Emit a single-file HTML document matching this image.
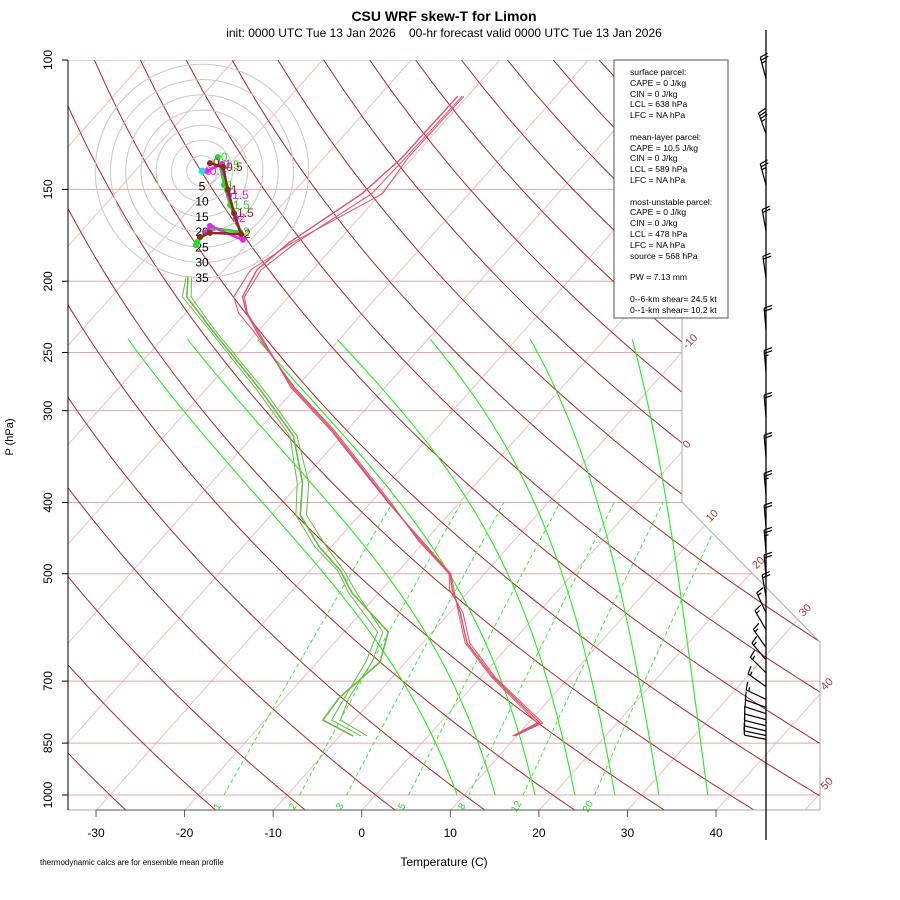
<!DOCTYPE html>
<html><head><meta charset="utf-8">
<style>
html,body{margin:0;padding:0;background:#fff;}
svg{display:block;font-family:"Liberation Sans",sans-serif;}
</style></head>
<body>
<svg id="chart" width="900" height="900" viewBox="0 0 900 900">
  <defs>
    <clipPath id="plotclip"><polygon points="68,60 682,60 682,502 820,642 820,810 68,810"/></clipPath>
  </defs>
  <text x="444" y="21" text-anchor="middle" font-size="14" font-weight="bold">CSU WRF skew-T for Limon</text>
  <text x="444" y="37" text-anchor="middle" font-size="12" xml:space="preserve">init: 0000 UTC Tue 13 Jan 2026&#160;&#160;&#160;&#160;00-hr forecast valid 0000 UTC Tue 13 Jan 2026</text>
  <g id="bg" clip-path="url(#plotclip)"></g>
  <g id="frame"></g>
  <g id="profiles"></g>
  <g id="hodo"></g>
  <g id="barbs"></g>
  <g id="axes"></g>
  <g>
    <rect x="614" y="60" width="114" height="258" fill="#fff" stroke="#555" stroke-width="1"/>
    <text font-size="8.6" fill="#000">
      <tspan x="630" y="75">surface parcel:</tspan>
      <tspan x="630" y="86">CAPE = 0 J/kg</tspan>
      <tspan x="630" y="97">CIN = 0 J/kg</tspan>
      <tspan x="630" y="107">LCL = 638 hPa</tspan>
      <tspan x="630" y="118">LFC = NA hPa</tspan>
      <tspan x="630" y="140">mean-layer parcel:</tspan>
      <tspan x="630" y="151">CAPE = 10.5 J/kg</tspan>
      <tspan x="630" y="161">CIN = 0 J/kg</tspan>
      <tspan x="630" y="172">LCL = 589 hPa</tspan>
      <tspan x="630" y="183">LFC = NA hPa</tspan>
      <tspan x="630" y="205">most-unstable parcel:</tspan>
      <tspan x="630" y="215">CAPE = 0 J/kg</tspan>
      <tspan x="630" y="226">CIN = 0 J/kg</tspan>
      <tspan x="630" y="237">LCL = 478 hPa</tspan>
      <tspan x="630" y="248">LFC = NA hPa</tspan>
      <tspan x="630" y="259">source = 568 hPa</tspan>
      <tspan x="630" y="280">PW =  7.13 mm</tspan>
      <tspan x="630" y="302">0--6-km shear= 24.5 kt</tspan>
      <tspan x="630" y="313">0--1-km shear= 10.2 kt</tspan>
    </text>
  </g>
  <text x="40" y="865" font-size="8">thermodynamic calcs are for ensemble mean profile</text>
  <text x="444" y="866" text-anchor="middle" font-size="12">Temperature (C)</text>
  <text x="0" y="0" transform="translate(13,437) rotate(-90)" text-anchor="middle" font-size="11">P (hPa)</text>
</svg>
<script>
// ---- data ----
const tempTicks = [-30,-20,-10,0,10,20,30,40];
const presTicks = [100,150,200,250,300,400,500,700,850,1000];
const isothermLabels = [-10,0,10,20,30,40,50];
const mixRatios = [1,2,3,5,8,12,20];
const moistStartT = [9.2,13.5,18,22.5,27,32,37.5];
const moistTopT = [-73.8,-67.1,-59.2,-50.2,-39.7,-28.4,-16.9];
const profP = [831,798,691,621,565,526,500,450,401,319,279,235,221,210,193,177,152,136,112];
const tempM1 = [9.6,11.3,1.4,-5.0,-8.8,-12.0,-13.9,-20.7,-27.8,-41.6,-50.4,-59.9,-63.1,-65.2,-66.3,-65.4,-62.1,-61.2,-61.1];
const tempM2 = [9.8,11.6,1.6,-4.7,-8.5,-12.3,-14.0,-20.9,-27.6,-41.4,-50.2,-60.2,-64.0,-66.2,-67.0,-65.0,-59.8,-60.5,-60.4];
const tempM3 = [9.5,11.0,1.2,-5.2,-9.0,-11.8,-13.8,-20.5,-27.9,-41.8,-50.6,-59.7,-63.0,-65.0,-65.8,-64.6,-61.0,-60.8,-60.6];
const dewP = [831,791,738,659,600,531,495,460,416,376,325,283,233,210,197];
const dewM1 = [-8.5,-13.5,-13.9,-12.9,-15.0,-23.0,-26.6,-31.3,-36.7,-39.7,-45.4,-53.4,-65.3,-71.5,-73.4];
const dewM2 = [-6.9,-11.5,-12.8,-13.8,-15.6,-22.5,-26.2,-30.5,-36.0,-39.0,-45.0,-53.0,-65.0,-71.0,-73.0];
const dewM3 = [-7.6,-12.5,-13.3,-14.5,-16.2,-23.4,-26.9,-31.8,-37.2,-40.3,-45.8,-53.8,-65.6,-72.0,-73.6];
const hodoRings = [5,10,15,20,25,30,35];
const hodoBrownU = [2.6,6.9,8.5,10.5,12.8,2.6,-0.7];
const hodoBrownV = [2.6,1.3,-6.2,-13.8,-20.7,-20.3,-21.6];
const hodoGreenU = [5.2,5.9,7.2,9.2,12.5,3.6,-1.6,-2.0];
const hodoGreenV = [4.6,2.0,-4.6,-11.1,-20.0,-18.7,-23.3,-24.3];
const hodoMagU = [0,1.6,6.6,8.9,11.1,13.4,2.6,1.6];
const hodoMagV = [0,0,2.3,-7.9,-15.4,-22.6,-18.0,-20.0];
const barbP = [106,126,148,171,198,233,266,306,347,391,432,467,505,537,565,596,630,655,682,712,741,760,775,790,805,818,830,840];
const barbDir = [345,340,345,350,352,355,355,355,355,355,355,355,355,350,335,330,325,320,315,305,295,290,288,285,284,283,282,281];
const barbSpd = [25,35,25,20,20,20,25,20,20,25,20,25,20,20,15,15,15,15,15,15,15,12,10,10,10,10,10,10];

// ---- axis functions ----
const NS='http://www.w3.org/2000/svg';
const Y0=60, YS=319.2, XB=810.6, X0=361.7, XT=8.857, SK=0.892;
function yP(p){return Y0+YS*Math.log(p/100);}
function xT(t,p){return X0+XT*t+SK*(XB-yP(p));}
function mk(tag,attrs,parent){const e=document.createElementNS(NS,tag);for(const k in attrs)e.setAttribute(k,attrs[k]);parent.appendChild(e);return e;}
function pathFrom(pts){return pts.map((q,i)=>(i?'L':'M')+q[0].toFixed(1)+','+q[1].toFixed(1)).join('');}
const bg=document.getElementById('bg'), frame=document.getElementById('frame'), axes=document.getElementById('axes');

// isotherms
for(let t=-110;t<=50;t+=10){
  const e=mk('path',{d:pathFrom([[xT(t,1050),yP(1050)],[xT(t,100),yP(100)]]),stroke:'#ebc0c0','stroke-width':1,fill:'none'},bg);
  
  
}
// pressure lines
presTicks.forEach(p=>{
  const e=mk('line',{x1:68,x2:830,y1:yP(p),y2:yP(p),stroke:'#e0a8a8','stroke-width':1},bg);
  
  
});
// dry adiabats
for(let th=-40;th<=190;th+=10){
  const pts=[];
  for(let p=1050;p>=100;p-=10){pts.push([xT((th+273.15)*Math.pow(p/1000,0.2857)-273.15,p),yP(p)]);}
  const e=mk('path',{d:pathFrom(pts),stroke:'#a52a2a','stroke-width':1,fill:'none'},bg);
  
  
}
// moist adiabats (integrated, then adjusted to match observed top temperature)
function es(t){return 6.112*Math.exp(17.67*t/(t+243.5));}
moistStartT.forEach((t0,i)=>{
  let T=t0+273.15; const raw=[[t0,1000]];
  for(let p=1000;p>240;p-=2){
    const rs=0.622*es(T-273.15)/(p-es(T-273.15));
    const num=287*T+2.5e6*rs, den=1004+2.5e6*2.5e6*rs*0.622/(287*T*T);
    T-= (num/(p*den))*2;
    raw.push([T-273.15,p-2]);
  }
  const err=moistTopT[i]-raw[raw.length-1][0];
  const L=Math.log(1000/240);
  const pts=raw.map(q=>{const f=Math.log(1000/q[1])/L;const t=q[0]+err*f;return [xT(t,q[1]),yP(q[1])];});
  const e=mk('path',{d:pathFrom(pts),stroke:'#22ee22','stroke-width':1.1,fill:'none'},bg);
  
  
});
// mixing ratio lines
function tdW(w,p){const e=w*p/(622+w);const l=Math.log(e/6.112);return 243.5*l/(17.67-l);}
mixRatios.forEach(w=>{
  const pts=[[xT(tdW(w,1000),1000),yP(1000)],[xT(tdW(w,700),700),yP(700)],[xT(tdW(w,550),550),yP(550)],[xT(tdW(w,400),400),yP(400)]];
  const e=mk('path',{d:pathFrom(pts),stroke:'#33ee33','stroke-width':1,'stroke-dasharray':'4,3',fill:'none'},bg);
  
  
  const x=xT(tdW(w,1000),1000)-4;
  const tx=mk('text',{x:0,y:0,transform:`translate(${x.toFixed(1)},808) rotate(-60)`,'font-size':10,fill:'#22dd22','text-anchor':'middle'},axes);
  tx.textContent=w;
  
  
});
// frame
const fr=mk('polyline',{points:'682,60 682,502 820,642 820,810',fill:'none',stroke:'#aaa','stroke-width':1},frame);


const bl=mk('line',{x1:68,x2:820,y1:810,y2:810,stroke:'#aaa','stroke-width':1},frame);


// isotherm labels
function xb(y){return y<=502?682:(y<=642?682+(y-502)*138/140:820);}
isothermLabels.forEach(t=>{
  let yy=60;
  for(let y=60;y<=810;y+=0.5){const x=X0+XT*t+SK*(XB-y);if(x<=xb(y)){yy=y;break;}}
  const x=xb(yy);
  const tx=mk('text',{x:0,y:0,transform:`translate(${(x+5).toFixed(1)},${(yy-3).toFixed(1)}) rotate(-45)`,'font-size':11,fill:'#b03838'},axes);
  tx.textContent=t;
  
  
});
// axes
mk('line',{x1:68,x2:68,y1:60,y2:810,stroke:'#000','stroke-width':1},axes);
presTicks.forEach(p=>{
  mk('line',{x1:62,x2:68,y1:yP(p),y2:yP(p),stroke:'#000'},axes);
  const tx=mk('text',{x:0,y:0,transform:`translate(52,${yP(p).toFixed(1)}) rotate(-90)`,'font-size':12,'text-anchor':'middle'},axes);
  tx.textContent=p;
  
  
});
mk('line',{x1:xT(-30,1050),x2:xT(40,1050),y1:810,y2:810,stroke:'#555'},axes);
tempTicks.forEach(t=>{
  const x=xT(t,1050);
  mk('line',{x1:x,x2:x,y1:810,y2:817,stroke:'#555'},axes);
  const tx=mk('text',{x:x,y:837,'font-size':12,'text-anchor':'middle'},axes);
  tx.textContent=t;
  
  
});
// profiles
const prof=document.getElementById('profiles');
[tempM1,tempM2,tempM3].forEach((arr,i)=>{
  const e=mk('path',{d:pathFrom(arr.map((t,k)=>[xT(t,profP[k]),yP(profP[k])])),stroke:'#e0506a','stroke-width':i?1:1.4,fill:'none'},prof);
  
  
});
[dewM1,dewM2,dewM3].forEach((arr,i)=>{
  const e=mk('path',{d:pathFrom(arr.map((t,k)=>[xT(t,dewP[k]),yP(dewP[k])])),stroke:'#66bb44','stroke-width':i?1:1.6,fill:'none'},prof);
  
  
});
// hodograph
const hodo=document.getElementById('hodo');
const HX=202, HY=171, HK=3.05;
function hx(u){return HX+u*HK;} function hy(v){return HY-v*HK;}
hodoRings.forEach(r=>{
  const c=mk('circle',{cx:HX,cy:HY,r:r*HK,fill:'none',stroke:'#c8c8c8','stroke-width':1},hodo);
  
  
  const tx=mk('text',{x:HX,y:HY+r*HK+4,'font-size':12,'text-anchor':'middle'},hodo);
  tx.textContent=r;
  
  
});
const hlabels=['0','0.5','1','1.5','2','3','4','5'];
[[hodoGreenU,hodoGreenV,'#22dd22'],[hodoMagU,hodoMagV,'#ee22ee'],[hodoBrownU,hodoBrownV,'#8b2a22']].forEach(s=>{
  const [U,V,col]=s;
  const e=mk('path',{d:pathFrom(U.map((u,k)=>[hx(u),hy(V[k])])),stroke:col,'stroke-width':2.5,fill:'none'},hodo);
  
  
  U.forEach((u,k)=>{
    const d=mk('circle',{cx:hx(u),cy:hy(V[k]),r:3,fill:col},hodo);
    
    
    if(k<5){const tx=mk('text',{x:hx(u)+3,y:hy(V[k])+4,'font-size':12,fill:col},hodo);tx.textContent=hlabels[k];
      
      }
  });
});
mk('circle',{cx:HX,cy:HY,r:3.5,fill:'#22dddd'},hodo);
// wind barbs
const barbs=document.getElementById('barbs');
mk('line',{x1:766,x2:766,y1:30,y2:840,stroke:'#000','stroke-width':1.3},barbs);
barbP.forEach((p,i)=>{
  const y=yP(p), a=barbDir[i]*Math.PI/180, sx=Math.sin(a), sy=-Math.cos(a);
  const L=22, tipx=766+sx*L, tipy=y+sy*L;
  let d=`M766,${y.toFixed(1)}L${tipx.toFixed(1)},${tipy.toFixed(1)}`;
  let spd=barbSpd[i], pos=0;
  const px=-sy, py=sx;
  while(spd>=10){const bx=tipx-sx*pos, by=tipy-sy*pos;d+=`M${bx.toFixed(1)},${by.toFixed(1)}l${(px*8+sx*2).toFixed(1)},${(py*8+sy*2).toFixed(1)}`;pos+=3;spd-=10;}
  if(spd>=5){const bx=tipx-sx*pos, by=tipy-sy*pos;d+=`M${bx.toFixed(1)},${by.toFixed(1)}l${(px*4+sx*1).toFixed(1)},${(py*4+sy*1).toFixed(1)}`;}
  const e=mk('path',{d:d,stroke:'#000','stroke-width':1.2,fill:'none'},barbs);
  
  
});
</script>
</body></html>
